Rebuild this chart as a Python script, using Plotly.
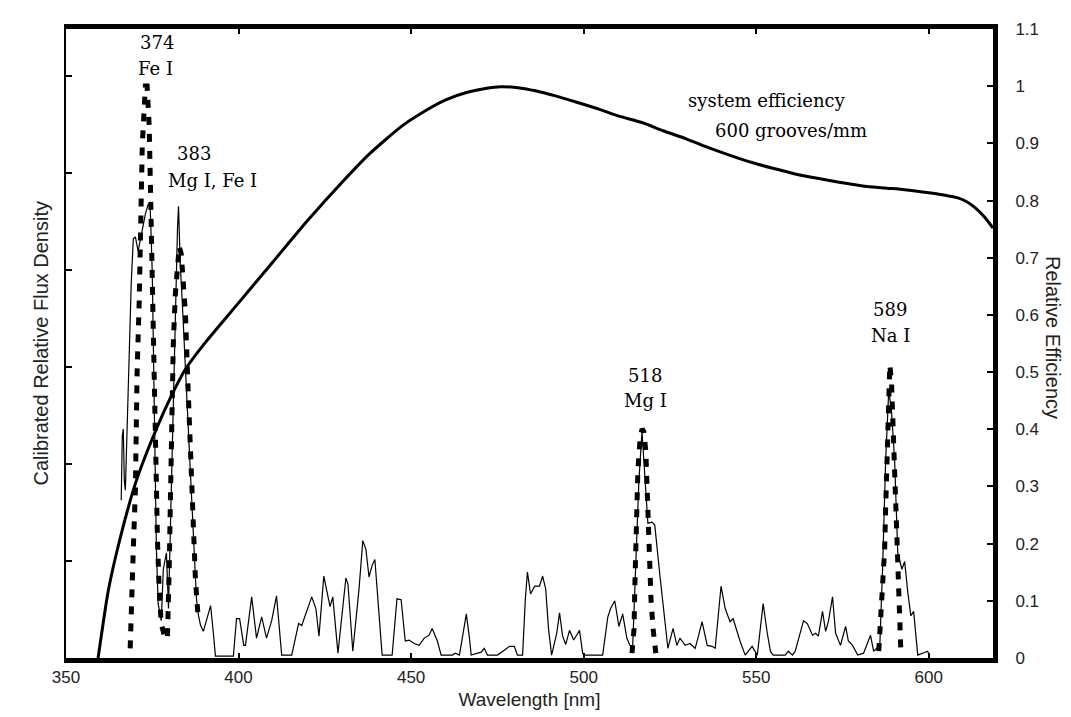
import plotly.graph_objects as go

# system efficiency curve (600 grooves/mm)
eff_wavelength = [359.3, 362.2, 365.1, 370.1, 374.7, 379.7, 384.6, 390.4, 400, 410, 420, 430, 438,
                  447.5, 455, 460, 466, 471.5, 476, 481.5, 486, 491.8, 498, 504.4, 510, 517.1, 523,
                  529.7, 536, 542.4, 549, 555.1, 561, 567.7, 574, 580.4, 587, 593, 600.6, 605,
                  608.2, 611, 613.3, 616, 618.6]
eff_value = [0, 0.116, 0.195, 0.305, 0.379, 0.448, 0.505, 0.552, 0.621, 0.693, 0.765, 0.832, 0.882,
             0.931, 0.960, 0.976, 0.989, 0.996, 0.999, 0.997, 0.992, 0.983, 0.972, 0.96, 0.948, 0.936,
             0.922, 0.908, 0.893, 0.879, 0.866, 0.856, 0.847, 0.839, 0.832, 0.826, 0.822, 0.819,
             0.813, 0.809, 0.805, 0.798, 0.788, 0.772, 0.752]

# measured spectrum (thin line)
spec_wavelength = [
    366.0, 366.3, 366.6, 366.9, 367.2, 367.7, 368.3, 368.9, 369.5, 370.1, 370.9, 372.1, 373.0,
    373.8, 374.4, 375.0, 375.6, 376.2, 376.7, 377.6, 378.2, 379.1, 379.7, 380.2, 380.8, 381.7,
    382.3, 382.6, 383.1, 383.7, 384.6, 385.5, 386.3, 387.2, 387.8, 388.4, 389.0, 389.8, 390.7,
    391.9, 392.7, 393.3, 398.5, 399.4, 400.3, 401.5, 402.0, 403.8, 405.2, 406.7, 408.1, 409.6,
    411.0, 412.5, 415.4, 417.4, 418.3, 421.2, 422.4, 423.3, 424.7, 426.5, 427.3, 428.8, 431.1,
    431.7, 433.1, 434.9, 436.0, 436.9, 437.8, 438.7, 439.5, 440.4, 441.6, 444.5, 445.9, 447.1,
    448.3, 449.4, 450.9, 452.3, 453.8, 455.2, 456.1, 457.6, 458.7, 461.9, 462.8, 464.0, 465.1,
    466.0, 466.9, 467.4, 470.3, 471.2, 472.1, 475.0, 477.0, 478.5, 479.9, 480.8, 482.3, 483.1,
    483.7, 484.6, 485.8, 487.2, 488.1, 489.0, 489.8, 490.7, 492.2, 493.0, 493.9, 494.8, 495.9,
    497.1, 498.3, 498.8, 499.7, 500.3, 505.5, 507.0, 507.8, 509.0, 510.2, 511.3, 512.5, 513.4,
    514.2, 515.1, 516.0, 516.9, 517.7, 518.6, 519.8, 520.6, 522.1, 523.5, 524.4, 525.9, 527.0,
    527.9, 529.4, 530.8, 532.3, 533.1, 534.3, 535.8, 537.2, 538.1, 539.0, 539.8, 541.0, 542.4,
    543.3, 545.3, 546.8, 548.8, 550.3, 551.2, 552.0, 553.2, 554.1, 554.9, 558.4, 559.3, 560.5,
    561.3, 562.8, 563.7, 564.8, 566.3, 567.2, 568.0, 569.2, 570.1, 570.9, 572.1, 573.0, 574.4,
    575.9, 576.7, 577.9, 579.4, 581.1, 582.3, 583.1, 584.0, 584.9, 585.8, 586.6, 587.5, 588.4,
    589.2, 590.1, 591.0, 592.2, 593.0, 593.9, 594.8, 595.6, 596.2, 596.8, 599.7, 600.0]
spec_flux = [
    0.325, 0.457, 0.472, 0.366, 0.346, 0.467, 0.650, 0.772, 0.864, 0.868, 0.839, 0.884, 0.915,
    0.935, 0.930, 0.793, 0.508, 0.224, 0.112, 0.077, 0.183, 0.217, 0.102, 0.264, 0.467, 0.711,
    0.884, 0.931, 0.813, 0.732, 0.604, 0.467, 0.366, 0.224, 0.122, 0.087, 0.067, 0.055, 0.077,
    0.108, 0.051, 0.004, 0.004, 0.081, 0.081, 0.026, 0.026, 0.126, 0.041, 0.085, 0.041, 0.077,
    0.128, 0.006, 0.006, 0.071, 0.067, 0.126, 0.102, 0.045, 0.169, 0.106, 0.126, 0.010, 0.165,
    0.152, 0.014, 0.142, 0.242, 0.224, 0.167, 0.191, 0.203, 0.122, 0.006, 0.006, 0.122, 0.120,
    0.035, 0.037, 0.030, 0.026, 0.041, 0.047, 0.061, 0.035, 0.006, 0.006, 0.010, 0.006, 0.051,
    0.091, 0.041, 0.006, 0.012, 0.020, 0.006, 0.006, 0.016, 0.024, 0.024, 0.006, 0.006, 0.122,
    0.177, 0.132, 0.148, 0.148, 0.169, 0.142, 0.061, 0.006, 0.051, 0.093, 0.045, 0.028, 0.057,
    0.037, 0.051, 0.057, 0.010, 0.006, 0.006, 0.085, 0.102, 0.118, 0.065, 0.091, 0.041, 0.026,
    0.024, 0.183, 0.366, 0.467, 0.366, 0.278, 0.280, 0.274, 0.169, 0.075, 0.020, 0.061, 0.026,
    0.041, 0.026, 0.030, 0.020, 0.041, 0.075, 0.026, 0.024, 0.020, 0.081, 0.148, 0.102, 0.075,
    0.081, 0.035, 0.006, 0.024, 0.006, 0.061, 0.112, 0.051, 0.014, 0.006, 0.006, 0.014, 0.006,
    0.014, 0.051, 0.077, 0.071, 0.047, 0.051, 0.045, 0.096, 0.055, 0.075, 0.126, 0.051, 0.026,
    0.065, 0.035, 0.026, 0.006, 0.010, 0.030, 0.047, 0.014, 0.020, 0.026, 0.183, 0.407, 0.553,
    0.508, 0.407, 0.217, 0.183, 0.199, 0.136, 0.087, 0.096, 0.051, 0.006, 0.014, 0.006]

# calibration lines (thick dotted)
fe374_wavelength = [368.6, 369.2, 369.5, 370.1, 370.3, 370.6, 371.2, 371.5, 371.8, 372.1, 372.7,
                    373.0, 373.5, 374.1, 374.4, 374.7, 375.0, 375.3, 375.6, 376.2, 376.5, 377.0,
                    377.6, 378.8]
fe374_flux = [0.020, 0.122, 0.224, 0.346, 0.467, 0.589, 0.732, 0.854, 0.955, 1.057, 1.138, 1.179,
              1.179, 1.098, 0.996, 0.874, 0.752, 0.630, 0.508, 0.366, 0.244, 0.142, 0.071, 0.037]
mg383_wavelength = [379.4, 379.7, 379.9, 380.2, 380.5, 380.8, 381.1, 381.7, 382.3, 382.8, 383.4,
                    384.0, 384.6, 385.2, 385.8, 386.3, 386.9, 387.5, 388.1, 388.4]
mg383_flux = [0.045, 0.102, 0.183, 0.305, 0.427, 0.549, 0.650, 0.752, 0.823, 0.848, 0.833, 0.783,
              0.711, 0.589, 0.467, 0.346, 0.244, 0.163, 0.102, 0.077]
mg518_wavelength = [514.0, 514.6, 514.8, 515.1, 515.4, 515.7, 516.3, 516.9, 517.4, 518.0, 518.3,
                    518.6, 518.9, 519.5, 520.1, 520.9]
mg518_flux = [0.010, 0.061, 0.142, 0.224, 0.305, 0.386, 0.447, 0.472, 0.467, 0.427, 0.366, 0.285,
              0.203, 0.122, 0.061, 0.010]
na589_wavelength = [585.5, 586.0, 586.6, 587.2, 587.5, 587.8, 588.1, 588.4, 588.7, 589.2, 589.5,
                    589.8, 590.1, 590.4, 590.7, 591.0, 591.3, 591.9]
na589_flux = [0.014, 0.081, 0.136, 0.224, 0.311, 0.396, 0.482, 0.569, 0.604, 0.569, 0.508, 0.447,
              0.376, 0.311, 0.244, 0.177, 0.075, 0.014]

x_ticks = [350, 400, 450, 500, 550, 600]
eff_ticks = [0, 0.1, 0.2, 0.3, 0.4, 0.5, 0.6, 0.7, 0.8, 0.9, 1.0, 1.1]
eff_tick_text = ["0", "0.1", "0.2", "0.3", "0.4", "0.5", "0.6", "0.7", "0.8", "0.9", "1", "1.1"]
flux_ticks = [0.2, 0.4, 0.6, 0.8, 1.0, 1.2]

line_labels = [
    (376.4, 1.268, "374"), (375.8, 1.215, "Fe I"),
    (387.0, 1.040, "383"), (392.5, 0.985, "Mg I, Fe I"),
    (517.8, 0.582, "518"), (517.9, 0.530, "Mg I"),
    (588.8, 0.718, "589"), (589.0, 0.665, "Na I"),
]

sans = "Liberation Sans, Arial, sans-serif"
serif = "DejaVu Serif, serif"

fig = go.Figure()
fig.add_trace(go.Scatter(x=spec_wavelength, y=spec_flux, mode="lines",
                         line=dict(color="black", width=1.2), yaxis="y"))
for wl, fl in [(fe374_wavelength, fe374_flux), (mg383_wavelength, mg383_flux),
               (mg518_wavelength, mg518_flux), (na589_wavelength, na589_flux)]:
    fig.add_trace(go.Scatter(x=wl, y=fl, mode="lines",
                             line=dict(color="black", width=5, dash="8px,9px"), yaxis="y"))
fig.add_trace(go.Scatter(x=eff_wavelength, y=eff_value, mode="lines",
                         line=dict(color="black", width=3, shape="spline", smoothing=0.6),
                         yaxis="y2"))

for x, y, t in line_labels:
    fig.add_annotation(x=x, y=y, xref="x", yref="y", text=t, showarrow=False,
                       font=dict(family=serif, size=18, color="black"))

fig.add_annotation(x=553, y=0.975, xref="x", yref="y2", text="system efficiency", showarrow=False,
                   font=dict(family=serif, size=18, color="black"))
fig.add_annotation(x=560, y=0.922, xref="x", yref="y2", text="600 grooves/mm", showarrow=False,
                   font=dict(family=serif, size=18, color="black"))

fig.add_annotation(x=-0.042, y=0.5, xref="paper", yref="paper", text="Calibrated Relative Flux Density",
                   textangle=-90, showarrow=False, font=dict(family=sans, size=20, color="#222"))
fig.add_annotation(x=1.079, y=0.51, xref="paper", yref="paper", text="Relative Efficiency",
                   textangle=90, showarrow=False, font=dict(family=sans, size=20, color="#222"))

fig.update_layout(
    width=1071, height=717,
    margin=dict(l=58, r=86, t=12, b=67),
    paper_bgcolor="white", plot_bgcolor="white",
    showlegend=False,
    xaxis=dict(range=[350, 618.6], tickvals=x_ticks, ticks="inside", ticklen=5, tickwidth=2,
               tickcolor="black", showline=True, linewidth=5, linecolor="black", mirror="ticks",
               showgrid=False, zeroline=False,
               tickfont=dict(family=sans, size=17, color="#222"),
               title=dict(text="Wavelength [nm]", font=dict(family=sans, size=19, color="#222"),
                          standoff=8)),
    yaxis=dict(range=[0, 1.2967], tickvals=flux_ticks, ticks="inside", ticklen=6, tickwidth=2,
               tickcolor="black", showticklabels=False, showline=True, linewidth=2,
               linecolor="black", showgrid=False, zeroline=False),
    yaxis2=dict(range=[0, 1.1], overlaying="y", side="right", tickvals=eff_ticks,
                ticktext=eff_tick_text, ticks="inside", ticklen=6, tickwidth=2, tickcolor="black",
                showline=True, linewidth=5, linecolor="black", showgrid=False, zeroline=False,
                ticklabelstandoff=14,
                tickfont=dict(family=sans, size=17, color="#222")),
)

fig.write_html("out.html")
